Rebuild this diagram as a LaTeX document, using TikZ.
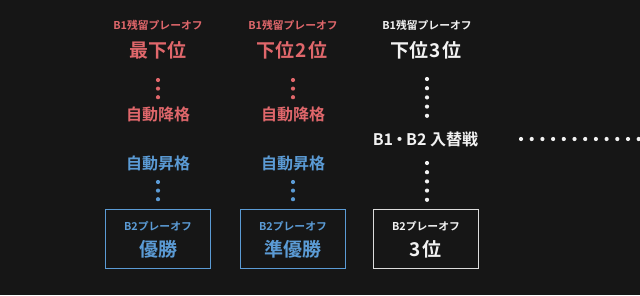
\documentclass[tikz,border=0pt]{standalone}
\usepackage{fontspec}
\setmainfont{Noto Sans CJK JP}[BoldFont={Noto Sans CJK JP Bold}]
\newfontfamily\jpb{Noto Sans CJK JP Bold}
\definecolor{bg}{HTML}{161616}
\definecolor{rd}{HTML}{E0676B}
\definecolor{bl}{HTML}{5B9BD5}
\definecolor{wh}{HTML}{F2F2F2}
\definecolor{bx}{HTML}{DCDCDC}
\newcommand{\dg}[1]{\hspace{1.8pt}#1\hspace{1.8pt}}
\begin{document}
\begin{tikzpicture}[x=1pt,y=-1pt,
  small/.style={font=\jpb\fontsize{10.8}{12}\selectfont, inner sep=0pt},
  big/.style={font=\jpb\fontsize{19}{22}\selectfont, inner sep=0pt},
  mid/.style={font=\jpb\fontsize{16}{19}\selectfont, inner sep=0pt},
  dotline/.style={line width=4.2pt, line cap=round, dash pattern=on 0pt off #1},
  boxframe/.style={draw, line width=0.8pt}]
\useasboundingbox[fill=bg] (0,0) rectangle (640,295);
% column 1
\node[small, text=rd] (t1) at (158,25) {B1残留プレーオフ};
\node[big, text=rd] (r1) at (158,50) {最下位};
\node[mid, text=rd] (d1) at (158,114) {自動降格};
\node[mid, text=bl] (u1) at (158,163) {自動昇格};
\node[boxframe, draw=bl, minimum width=105pt, minimum height=59pt, inner sep=0pt] (b1) at (157.5,238.5) {};
\node[small, text=bl] (bt1) at (158,226) {B2プレーオフ};
\node[big, text=bl] (bb1) at (158,249) {優勝};
\coordinate (c1a) at (158,80); \coordinate (c1b) at (158,99);
\coordinate (c1c) at (158,182); \coordinate (c1d) at (158,201);
\draw[rd, dotline=8.6pt] (c1a) -- (c1b);
\draw[bl, dotline=8.6pt] (c1c) -- (c1d);
% column 2
\node[small, text=rd] (t2) at (293,25) {B1残留プレーオフ};
\node[big, text=rd] (r2) at (292,50) {下位\dg{2}位};
\node[mid, text=rd] (d2) at (293,114) {自動降格};
\node[mid, text=bl] (u2) at (293,163) {自動昇格};
\node[boxframe, draw=bl, minimum width=105pt, minimum height=59pt, inner sep=0pt] (b2) at (292.5,238.5) {};
\node[small, text=bl] (bt2) at (293,226) {B2プレーオフ};
\node[big, text=bl] (bb2) at (293,249) {準優勝};
\coordinate (c2a) at (293,80); \coordinate (c2b) at (293,99);
\coordinate (c2c) at (293,182); \coordinate (c2d) at (293,201);
\draw[rd, dotline=8.6pt] (c2a) -- (c2b);
\draw[bl, dotline=8.6pt] (c2c) -- (c2d);
% column 3
\node[small, text=wh] (t3) at (427,25) {B1残留プレーオフ};
\node[big, text=wh] (r3) at (426,50) {下位\dg{3}位};
\node[mid, text=wh] (m3) at (425.5,139) {B1\hspace{-1.5pt}・\hspace{-1.5pt}B2 入替戦};
\node[boxframe, draw=bx, minimum width=105pt, minimum height=59pt, inner sep=0pt] (b3) at (425.5,238.5) {};
\node[small, text=wh] (bt3) at (426,226) {B2プレーオフ};
\node[big, text=wh] (bb3) at (425.5,249) {3\hspace{2pt}位};
\coordinate (c3a) at (427,79); \coordinate (c3b) at (427,118);
\coordinate (c3c) at (427,163); \coordinate (c3d) at (427,202);
\draw[wh, dotline=9.2pt] (c3a) -- (c3b);
\draw[wh, dotline=9.2pt] (c3c) -- (c3d);
\coordinate (h1) at (521,139); \coordinate (h2) at (645,139);
\draw[wh, dotline=10.7pt] (h1) -- (h2);
\end{tikzpicture}
\end{document}
